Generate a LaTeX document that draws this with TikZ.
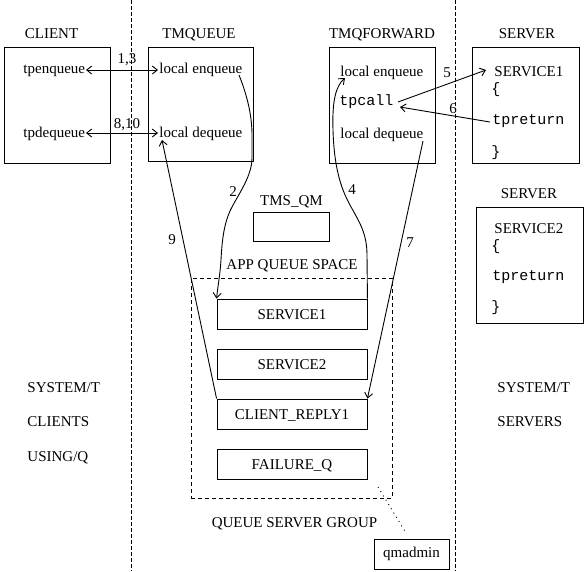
\documentclass[tikz,border=0pt]{standalone}
\usepackage{fontspec}
\setmainfont{Liberation Serif}
\setmonofont{Liberation Mono}
\usetikzlibrary{arrows.meta}
\begin{document}
\begin{tikzpicture}[x=1pt,y=-1pt,line width=0.9pt,
  txt/.style={font=\fontsize{15}{18}\selectfont,inner sep=0pt},
  code/.style={font=\fontsize{15}{18}\selectfont\ttfamily,inner sep=0pt},
  box/.style={draw,inner sep=0pt},
  qbox/.style={draw,inner sep=0pt,minimum width=150pt,minimum height=30pt,
    font=\fontsize{15}{18}\selectfont,text height=10pt,text depth=0pt},
  dsh/.style={dash pattern=on 4pt off 2pt},
  arr/.style={-{Straight Barb[length=5pt,width=8pt]}},
  darr/.style={{Straight Barb[length=5pt,width=8pt]}-{Straight Barb[length=5pt,width=8pt]}}]
\useasboundingbox (0,0) rectangle (586,571);
\fill[white] (0,0) rectangle (586,571);

% vertical separators
\draw[dsh] (131,0) -- (131,571);
\draw[dsh] (455,0) -- (455,571);

% main boxes
\node[box,minimum width=106pt,minimum height=116pt] (client) at (57,105) {};
\node[box,minimum width=105pt,minimum height=114pt] (tmq) at (200.5,104) {};
\node[box,minimum width=106pt,minimum height=116pt] (tmqf) at (382,105) {};
\node[box,minimum width=107pt,minimum height=116pt] (srv1) at (525.5,105) {};
\node[box,minimum width=107pt,minimum height=116pt] (srv2) at (529.5,265) {};
\node[box,minimum width=76pt,minimum height=29pt] (tmsqm) at (291,226.5) {};
\node[draw,dash pattern=on 4pt off 3pt,inner sep=0pt,minimum width=201pt,minimum height=220pt] (aqs) at (291.5,388) {};
\node[qbox] (q1) at (292,314) {SERVICE1};
\node[qbox] (q2) at (292,364) {SERVICE2};
\node[qbox] (q3) at (292,414) {CLIENT\_REPLY1};
\node[qbox] (q4) at (292,464) {FAILURE\_Q};
\node[box,minimum width=75pt,minimum height=30pt,font=\fontsize{15}{18}\selectfont,text height=10pt,text depth=3pt] (qmadmin) at (411.5,554) {qmadmin};

% titles
\node[txt,anchor=base] (lclient) at (51.5,38) {CLIENT};
\node[txt,anchor=base] (ltmq) at (199,38) {TMQUEUE};
\node[txt,anchor=base] (ltmqf) at (382,38) {TMQFORWARD};
\node[txt,anchor=base] (lsrv1) at (527,38) {SERVER};
\node[txt,anchor=base] (lsrv2) at (529,198) {SERVER};
\node[txt,anchor=base] (ltms) at (291.5,205) {TMS\_QM};
\node[txt,anchor=base] (laqs) at (292,269) {APP QUEUE SPACE};
\node[txt,anchor=base] (lqsg) at (294.5,527) {QUEUE SERVER GROUP};

% side labels
\node[txt,anchor=base west] (sys1) at (27,392) {SYSTEM/T};
\node[txt,anchor=base west] (cli) at (27,426) {CLIENTS};
\node[txt,anchor=base west] (usq) at (27,461) {USING/Q};
\node[txt,anchor=base west] (sys2) at (497,392) {SYSTEM/T};
\node[txt,anchor=base west] (svs) at (497,426) {SERVERS};

% client texts
\node[txt,anchor=base west] (tpenq) at (23,73) {tpenqueue};
\node[txt,anchor=base west] (tpdeq) at (23,137) {tpdequeue};
% tmqueue texts
\node[txt,anchor=base west] (qenq) at (159,73) {local enqueue};
\node[txt,anchor=base west] (qdeq) at (159,137) {local dequeue};
% tmqforward texts
\node[txt,anchor=base west] (fenq) at (340,76) {local enqueue};
\node[code,anchor=base west] (tpcall) at (339,105) {tpcall};
\node[txt,anchor=base west] (fdeq) at (340,138) {local dequeue};
% server 1
\node[txt,anchor=base west] (s1name) at (494,76) {SERVICE1};
\node[code,anchor=base west] (s1ob) at (491,93) {\{};
\node[code,anchor=base west] (s1ret) at (492,124) {tpreturn};
\node[code,anchor=base west] (s1cb) at (491,156) {\}};
% server 2
\node[txt,anchor=base west] (s2name) at (494,233) {SERVICE2};
\node[code,anchor=base west] (s2ob) at (491,250) {\{};
\node[code,anchor=base west] (s2ret) at (492,280) {tpreturn};
\node[code,anchor=base west] (s2cb) at (491,311) {\}};

% connector end points
\coordinate (e13l) at (86,70);
\coordinate (e13r) at (158,70);
\coordinate (e810l) at (86,133);
\coordinate (e810r) at (158,133);
\coordinate (s2) at (239,75);
\coordinate (e4) at (345,78);
\coordinate (s5) at (398,102);
\coordinate (e5) at (486,70);
\coordinate (s6) at (490,122);
\coordinate (e6) at (400,107);
\coordinate (s7) at (423,141);
\coordinate (e9) at (162,140);
\coordinate (sd) at (378,487);
\coordinate (ed) at (406,533);

% connectors
\draw[darr] (e13l) -- (e13r);
\draw[darr] (e810l) -- (e810r);
\draw[arr] (s2) .. controls (247,95) and (252,115) .. (252,135) -- (252,158)
  .. controls (252,175) and (240,192) .. (232,207)
  .. controls (224,222) and (222,240) .. (221,260)
  .. controls (220,275) and (218,285) .. (q1.north west);
\draw[arr] (q1.north east) -- (367,255)
  .. controls (367,232) and (358,220) .. (350,205)
  .. controls (340,187) and (334,165) .. (333,130)
  .. controls (332,100) and (336,86) .. (e4);
\draw[arr] (s5) -- (e5);
\draw[arr] (s6) -- (e6);
\draw[arr] (s7) -- (q3.north east);
\draw[arr] (q3.north west) -- (e9);
\draw[dash pattern=on 1pt off 4pt] (sd) -- (ed);

% connector labels
\node[txt,anchor=base] (n13) at (127,63) {1,3};
\node[txt,anchor=base] (n810) at (127,128) {8,10};
\node[txt] (n2) at (233,192) {2};
\node[txt] (n4) at (352,190) {4};
\node[txt] (n5) at (447,73) {5};
\node[txt] (n6) at (453,109) {6};
\node[txt] (n7) at (410,243) {7};
\node[txt] (n9) at (172,240) {9};
\end{tikzpicture}
\end{document}
